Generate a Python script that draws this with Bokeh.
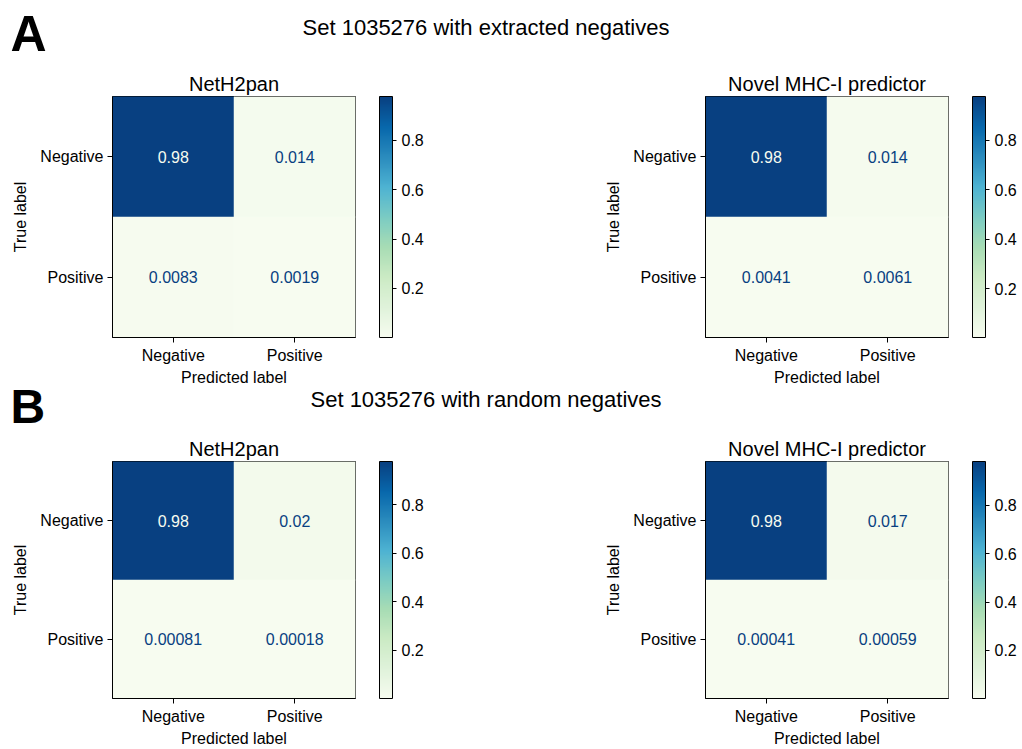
from bokeh.plotting import figure
from bokeh.models import (ColumnDataSource, LinearColorMapper, ColorBar, FixedTicker,
                          Range1d, FactorRange)
from bokeh.layouts import column, row
from bokeh.palettes import GnBu9, interp_palette
from bokeh.embed import file_html
from bokeh.resources import INLINE
from bokeh.core.properties import value

# ---------------- data ----------------
classes = ["Negative", "Positive"]
set_titles = ["Set 1035276 with extracted negatives", "Set 1035276 with random negatives"]
panel_letters = ["A", "B"]
model_names = ["NetH2pan", "Novel MHC-I predictor"]
x_axis_title = "Predicted label"
y_axis_title = "True label"

# rows = true label (Negative, Positive), cols = predicted label (Negative, Positive)
cm_extracted_neth2pan = [[0.976, 0.014], [0.0083, 0.0019]]
cm_extracted_novel = [[0.976, 0.014], [0.0041, 0.0061]]
cm_random_neth2pan = [[0.979, 0.020], [0.00081, 0.00018]]
cm_random_novel = [[0.982, 0.017], [0.00041, 0.00059]]
colorbar_ticks = [0.2, 0.4, 0.6, 0.8]

FONT = "Liberation Sans"
palette = interp_palette(list(reversed(GnBu9)), 256)
LOW_C = palette[0]
HIGH_C = palette[-1]

# frame centres (screen px) of left / right panels, used for the row-A x-axis titles
FRAME_CENTRES = [233.5, 826.5]


def panel(cm, name, width, height, left, right, top, bottom, show_xlabel=True):
    p = figure(width=width, height=height,
               x_range=FactorRange(*classes),
               y_range=FactorRange(*reversed(classes)),
               output_backend="svg", toolbar_location=None,
               min_border_left=left, min_border_right=right,
               min_border_top=top, min_border_bottom=bottom,
               title=name)
    pred, true, vals = [], [], []
    for i in range(2):
        for j in range(2):
            true.append(classes[i])
            pred.append(classes[j])
            vals.append(cm[i][j])
    lo, hi = min(vals), max(vals)
    thresh = (lo + hi) / 2.0
    src = ColumnDataSource(dict(
        pred=pred, true=true, v=vals,
        lab=["{:.2g}".format(v) for v in vals],
        tc=[LOW_C if v >= thresh else HIGH_C for v in vals]))
    mapper = LinearColorMapper(palette=palette, low=lo, high=hi)
    p.rect(x="pred", y="true", width=1, height=1, source=src,
           fill_color={"field": "v", "transform": mapper},
           line_color={"field": "v", "transform": mapper}, line_width=0.5)
    p.text(x="pred", y="true", text="lab", source=src, text_color="tc",
           text_align="center", text_baseline="middle",
           text_font_size="16px", text_font=value(FONT))

    p.title.text_font = FONT
    p.title.text_font_size = "20px"
    p.title.text_font_style = "normal"
    p.title.align = "center"
    p.title.text_color = "black"
    p.title.standoff = 4

    p.grid.grid_line_color = None
    p.outline_line_color = "black"
    p.outline_line_width = 1
    for ax in (p.xaxis, p.yaxis):
        ax.axis_line_color = "black"
        ax.major_tick_line_color = "black"
        ax.major_tick_in = 0
        ax.major_tick_out = 5
        ax.major_label_text_font = FONT
        ax.major_label_text_font_size = "16px"
        ax.major_label_text_color = "black"
        ax.major_label_standoff = 4
        ax.axis_label_text_font = FONT
        ax.axis_label_text_font_size = "16px"
        ax.axis_label_text_font_style = "normal"
        ax.axis_label_text_color = "black"
    if show_xlabel:
        p.xaxis.axis_label = x_axis_title
    p.yaxis.axis_label = y_axis_title
    p.xaxis.axis_label_standoff = 2
    p.yaxis.axis_label_standoff = 8

    cb = ColorBar(color_mapper=mapper, ticker=FixedTicker(ticks=colorbar_ticks),
                  width=13, padding=0, margin=0, location=(24, 0),
                  bar_line_color="black", bar_line_width=1,
                  major_tick_line_color="black", major_tick_in=0, major_tick_out=4,
                  minor_tick_line_color=None,
                  major_label_text_font=FONT, major_label_text_font_size="16px",
                  major_label_text_color="black", label_standoff=5,
                  border_line_color=None, background_fill_color=None)
    p.add_layout(cb, "right")
    return p


def header(h, letter, letter_y, letter_size, title, title_y, xlabel_y=None):
    p = figure(width=1022, height=h, x_range=Range1d(0, 1022), y_range=Range1d(0, h),
               output_backend="svg", toolbar_location=None, min_border=0,
               x_axis_location=None, y_axis_location=None, title=None)
    p.grid.grid_line_color = None
    p.outline_line_color = None
    p.text(x=[10], y=[letter_y], text=[letter], text_font=value(FONT),
           text_font_size=letter_size, text_font_style="bold",
           text_baseline="middle", text_align="left", text_color="black")
    p.text(x=[485.5], y=[title_y], text=[title], text_font=value(FONT),
           text_font_size="22px", text_align="center",
           text_baseline="middle", text_color="black")
    if xlabel_y is not None:
        # x-axis titles of the row above (kept here so that row B's letter fits)
        p.text(x=FRAME_CENTRES, y=[xlabel_y] * 2, text=[x_axis_title] * 2,
               text_font=value(FONT), text_font_size="16px", text_align="center",
               text_baseline="middle", text_color="black")
    return p


hA = header(60, panel_letters[0], 27, "50px", set_titles[0], 33.3)
pA1 = panel(cm_extracted_neth2pan, model_names[0], 559, 306, 112, 204, 36, 27, show_xlabel=False)
pA2 = panel(cm_extracted_novel, model_names[1], 463, 306, 146, 74, 36, 27, show_xlabel=False)
hB = header(67, panel_letters[1], 27, "48px", set_titles[1], 34.3, xlabel_y=56.3)
pB1 = panel(cm_random_neth2pan, model_names[0], 559, 316, 112, 204, 27, 46)
pB2 = panel(cm_random_novel, model_names[1], 463, 316, 146, 74, 27, 46)

layout = column(hA, row(pA1, pA2), hB, row(pB1, pB2))
open("out.html", "w").write(file_html(layout, INLINE))
